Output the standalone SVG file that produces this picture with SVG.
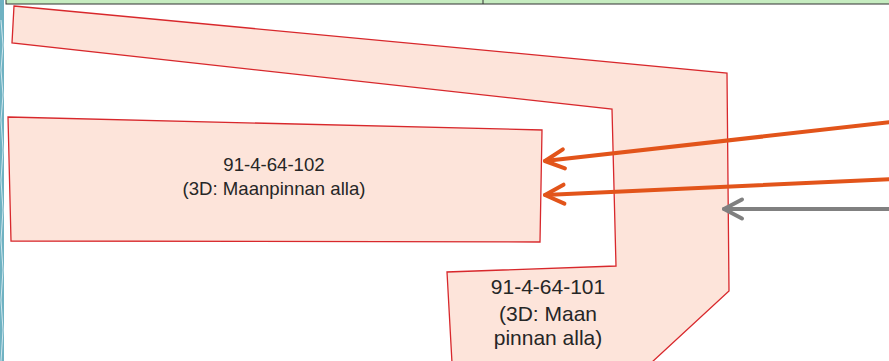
<svg xmlns="http://www.w3.org/2000/svg" width="889" height="361" viewBox="0 0 889 361">
<style>
.area{fill:#fde4da;stroke:#d8282c;stroke-width:1.3;stroke-linejoin:miter}
.lbl{font-family:"Liberation Sans",Arial,sans-serif;fill:#262626;text-anchor:middle}
.org{stroke:#e2541a;stroke-width:4;fill:none;stroke-linecap:round}
.gry{stroke:#808080;stroke-width:4;fill:none;stroke-linecap:round}
</style>
<defs>
<marker id="hO" markerUnits="userSpaceOnUse" viewBox="-25 -14 29 28" markerWidth="29" markerHeight="28" refX="0" refY="0" orient="auto" overflow="visible">
<path d="M-19,-9.5 L0,0 L-19,9.5" fill="none" stroke="#e2541a" stroke-width="4" stroke-linecap="round" stroke-linejoin="round"/>
</marker>
<marker id="hG" markerUnits="userSpaceOnUse" viewBox="-25 -14 29 28" markerWidth="29" markerHeight="28" refX="0" refY="0" orient="auto" overflow="visible">
<path d="M-18,-9.5 L0,0 L-18,9.5" fill="none" stroke="#808080" stroke-width="4" stroke-linecap="round" stroke-linejoin="round"/>
</marker>
</defs>
<rect x="0" y="0" width="889" height="361" fill="#ffffff"/>
<g id="background">
<rect x="0" y="0" width="4" height="361" fill="#6fb2c2"/>
<polyline points="1,20 3,45 1,70 3,95 1,120 3,150 1,180 3,210 1,240 3,270 1,300 3,330 1,361" fill="none" stroke="#e8f4f7" stroke-width="0.8"/>
<rect x="6" y="-2" width="886" height="6" fill="#c6ecc0" stroke="#333333" stroke-width="1"/>
<line x1="483" y1="0" x2="483" y2="4" stroke="#333333" stroke-width="1"/>
</g>
<g id="node-101">
<polygon class="area" points="14,6 727,73 729,291 651,363 452,363 447,272 616,266 612,109 12,43"/>
<text class="lbl" font-size="21" x="548" y="294">91-4-64-101</text>
<text class="lbl" font-size="21" x="548" y="321">(3D: Maan</text>
<text class="lbl" font-size="21" x="548" y="345">pinnan alla)</text>
</g>
<g id="node-102">
<polygon class="area" points="8,117 542,130 540,242 11,241"/>
<text class="lbl" font-size="18.6" x="274" y="171">91-4-64-102</text>
<text class="lbl" font-size="18.6" x="274" y="195">(3D: Maanpinnan alla)</text>
</g>
<g id="connectors">
<line class="org" x1="892" y1="122" x2="545" y2="161" marker-end="url(#hO)"/>
<line class="org" x1="892" y1="179" x2="545" y2="195" marker-end="url(#hO)"/>
<line class="gry" x1="892" y1="209" x2="724" y2="209" marker-end="url(#hG)"/>
</g>
</svg>
